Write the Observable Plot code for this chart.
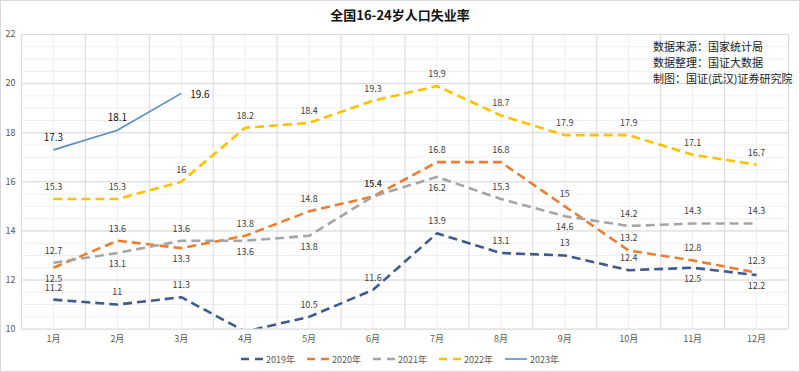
<!DOCTYPE html>
<html><head><meta charset="utf-8">
<script src="https://cdn.jsdelivr.net/npm/d3@7"></script>
<script src="https://cdn.jsdelivr.net/npm/@observablehq/plot@0.6"></script>
<style>
html,body{margin:0;padding:0;background:#fff;}
body{font-family:"Noto Sans CJK SC","Noto Sans",sans-serif;}
#wrap{position:relative;width:800px;height:372px;box-sizing:border-box;border:1px solid #d9d9d9;overflow:hidden;background:#fff;}
#title{position:absolute;left:-1px;top:5px;width:800px;text-align:center;font-size:13px;font-weight:bold;color:#111;line-height:18px;}
#chart{position:absolute;left:-1px;top:23px;}
#note{position:absolute;left:652px;top:37px;font-size:11px;line-height:16px;color:#222;white-space:nowrap;}
#legend{position:absolute;left:-1px;top:350px;width:800px;height:16px;display:flex;justify-content:center;align-items:center;font-size:9px;color:#595959;}
.item{display:flex;align-items:center;margin:0 6px;}
.item svg{margin-right:3px;}
</style>
</head><body>
<div id="wrap">
  <div id="title"></div>
  <div id="chart"></div>
  <div id="note"></div>
  <div id="legend"></div>
</div>
<script>
const titleText = "全国16-24岁人口失业率";
const noteLines = ["数据来源：国家统计局", "数据整理：国证大数据", "制图：国证(武汉)证券研究院"];
const months = ["1月","2月","3月","4月","5月","6月","7月","8月","9月","10月","11月","12月"];
const seriesNames = ["2019年","2020年","2021年","2022年","2023年"];
const v2019 = [11.2, 11, 11.3, 9.9, 10.5, 11.6, 13.9, 13.1, 13, 12.4, 12.5, 12.2];
const v2020 = [12.5, 13.6, 13.3, 13.8, 14.8, 15.4, 16.8, 16.8, 15, 13.2, 12.8, 12.3];
const v2021 = [12.7, 13.1, 13.6, 13.6, 13.8, 15.4, 16.2, 15.3, 14.6, 14.2, 14.3, 14.3];
const v2022 = [15.3, 15.3, 16, 18.2, 18.4, 19.3, 19.9, 18.7, 17.9, 17.9, 17.1, 16.7];
const v2023 = [17.3, 18.1, 19.6];
const yTicks = [10, 12, 14, 16, 18, 20, 22];
// label placement: a = above, b = below, r = right
const place2019 = "aaaaaaaaaabb";
const place2020 = "babaaaaaaaaa";
const place2021 = "abab" + "babab" + "aaa";
const place2022 = "aaaaaaaaaaaa";
const place2023 = "aar";

const values = [v2019, v2020, v2021, v2022, v2023];
const places = [place2019, place2020, place2021, place2022, place2023];
const colors = ["#3E5B8C", "#ED7D31", "#A5A5A5", "#FFC000", "#5B8EC0"];
const dashed = [true, true, true, true, false];

const rows = [];
seriesNames.forEach((s, si) => {
  values[si].forEach((v, i) => rows.push({series: s, si, m: i + 1, v, pos: places[si][i]}));
});

document.getElementById("title").textContent = titleText;
document.getElementById("note").innerHTML = noteLines.map(t => `<div>${t}</div>`).join("");

const lineMarks = seriesNames.map((s, si) => Plot.line(rows.filter(r => r.si === si), {
  x: "m", y: "v", stroke: colors[si],
  strokeWidth: dashed[si] ? 2.6 : 1.6,
  strokeDasharray: dashed[si] ? "9,5" : null,
  strokeLinecap: "butt", strokeLinejoin: "round", clip: true
}));

const vis = rows.filter(r => r.v >= 10);
const plainFill = "#404040";

const chart = Plot.plot({
  width: 800, height: 324,
  marginTop: 10, marginBottom: 19, marginLeft: 21, marginRight: 11,
  style: {fontFamily: '"Noto Sans CJK SC","Noto Sans",sans-serif', fontSize: "9px", color: "#595959", background: "transparent"},
  x: {domain: [0.5, 12.5], axis: null, label: null},
  y: {domain: [10, 22], axis: null, label: null},
  marks: [
    Plot.ruleY(d3.range(10, 22.01, 0.5), {stroke: "#efefef", strokeWidth: 1}),
    Plot.ruleX(d3.range(1, 13), {stroke: "#efefef", strokeWidth: 1}),
    Plot.ruleY(yTicks, {stroke: "#d9d9d9", strokeWidth: 1}),
    Plot.ruleX(d3.range(0.5, 12.51, 1), {stroke: "#d9d9d9", strokeWidth: 1}),
    ...lineMarks,
    Plot.text(vis.filter(r => r.pos === "a"), {x: "m", y: "v", text: d => String(d.v), dy: -12,
      fill: d => d.si === 4 ? "#111" : plainFill, fontSize: d => d.si === 4 ? 10 : 9}),
    Plot.text(vis.filter(r => r.pos === "b"), {x: "m", y: "v", text: d => String(d.v), dy: 11, fill: plainFill, fontSize: 9}),
    Plot.text(vis.filter(r => r.pos === "r"), {x: "m", y: "v", text: d => String(d.v), dx: 9, dy: 1, textAnchor: "start",
      fill: "#111", fontSize: 10}),
    Plot.axisY(yTicks, {tickSize: 0, tickPadding: 6, fontSize: 9, fill: "#595959", label: null}),
    Plot.axisX(d3.range(1, 13), {tickSize: 0, tickPadding: 7, tickFormat: d => months[d - 1], fontSize: 9, fill: "#595959", label: null})
  ]
});
document.getElementById("chart").appendChild(chart);

const legend = document.getElementById("legend");
seriesNames.forEach((s, si) => {
  const item = document.createElement("div");
  item.className = "item";
  item.innerHTML = `<svg width="22" height="6"><line x1="0" y1="3" x2="22" y2="3" stroke="${colors[si]}" stroke-width="${dashed[si] ? 2.6 : 1.6}" ${dashed[si] ? 'stroke-dasharray="8,6"' : ''}/></svg><span>${s}</span>`;
  legend.appendChild(item);
});
</script>
</body></html>
